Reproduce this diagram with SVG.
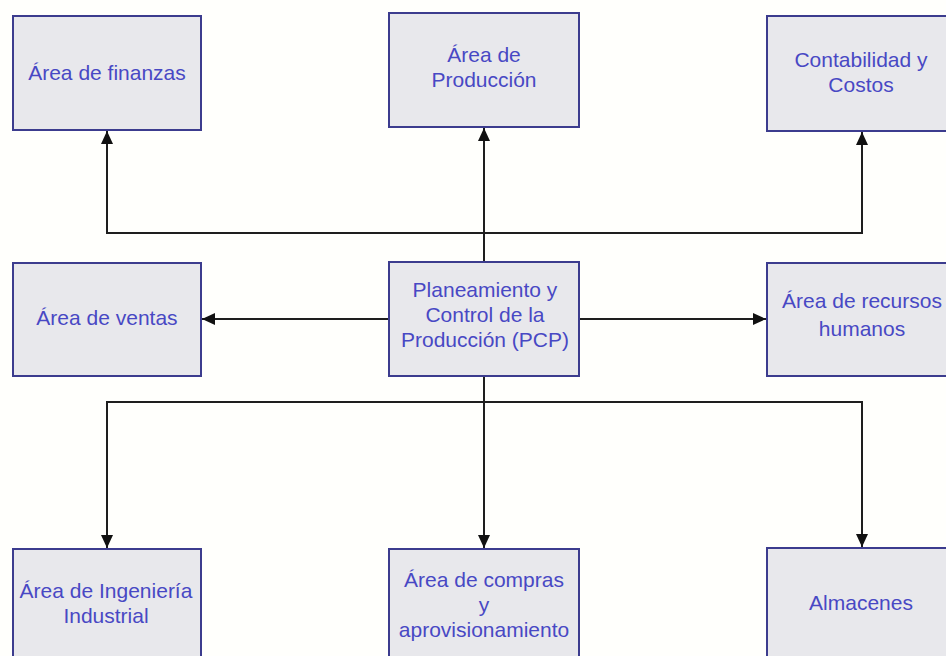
<svg xmlns="http://www.w3.org/2000/svg" width="946" height="656" viewBox="0 0 946 656">
  <style>
    .box { fill: #e8e8ec; stroke: #3c3c8e; stroke-width: 2; }
    .lbl { font-family: "Liberation Sans", Arial, sans-serif; font-size: 21px; fill: #4848c4; text-anchor: middle; }
    .wire { fill: none; stroke: #1e1e1e; stroke-width: 2; }
  </style>
  <defs>
    <marker id="arrow" viewBox="0 0 13 12" refX="13" refY="6" markerWidth="13" markerHeight="12" markerUnits="userSpaceOnUse" orient="auto">
      <path d="M0,0 L13,6 L0,12 Z" fill="#111"/>
    </marker>
  </defs>
  <rect x="0" y="0" width="946" height="656" fill="#fffffc"/>

  <!-- connectors -->
  <g id="connectors">
    <!-- upward tree -->
    <line class="wire" x1="484" y1="262" x2="484" y2="128" marker-end="url(#arrow)"/>
    <polyline class="wire" points="484,233 107,233 107,131" marker-end="url(#arrow)"/>
    <polyline class="wire" points="484,233 862,233 862,132" marker-end="url(#arrow)"/>
    <!-- sideways -->
    <line class="wire" x1="389" y1="319" x2="202" y2="319" marker-end="url(#arrow)"/>
    <line class="wire" x1="579" y1="319" x2="766" y2="319" marker-end="url(#arrow)"/>
    <!-- downward tree -->
    <line class="wire" x1="484" y1="376" x2="484" y2="548" marker-end="url(#arrow)"/>
    <polyline class="wire" points="484,402 107,402 107,548" marker-end="url(#arrow)"/>
    <polyline class="wire" points="484,402 862,402 862,547" marker-end="url(#arrow)"/>
  </g>

  <!-- top row -->
  <g id="finanzas">
    <rect class="box" x="13" y="16" width="188" height="114"/>
    <text class="lbl" x="107" y="80">Área de finanzas</text>
  </g>
  <g id="produccion">
    <rect class="box" x="389" y="13" width="190" height="114"/>
    <text class="lbl" x="484" y="62">Área de</text>
    <text class="lbl" x="484" y="87">Producción</text>
  </g>
  <g id="contabilidad">
    <rect class="box" x="767" y="16" width="190" height="115"/>
    <text class="lbl" x="861" y="67">Contabilidad y</text>
    <text class="lbl" x="861" y="92">Costos</text>
  </g>

  <!-- middle row -->
  <g id="ventas">
    <rect class="box" x="13" y="263" width="188" height="113"/>
    <text class="lbl" x="107" y="325">Área de ventas</text>
  </g>
  <g id="pcp">
    <rect class="box" x="389" y="262" width="190" height="114"/>
    <text class="lbl" x="485" y="297">Planeamiento y</text>
    <text class="lbl" x="485" y="322">Control de la</text>
    <text class="lbl" x="485" y="347">Producción (PCP)</text>
  </g>
  <g id="rrhh">
    <rect class="box" x="767" y="263" width="190" height="113"/>
    <text class="lbl" x="862" y="308">Área de recursos</text>
    <text class="lbl" x="862" y="336">humanos</text>
  </g>

  <!-- bottom row -->
  <g id="ingenieria">
    <rect class="box" x="13" y="549" width="188" height="120"/>
    <text class="lbl" x="106" y="598">Área de Ingeniería</text>
    <text class="lbl" x="106" y="623">Industrial</text>
  </g>
  <g id="compras">
    <rect class="box" x="389" y="549" width="190" height="120"/>
    <text class="lbl" x="484" y="587">Área de compras</text>
    <text class="lbl" x="484" y="612">y</text>
    <text class="lbl" x="484" y="637">aprovisionamiento</text>
  </g>
  <g id="almacenes">
    <rect class="box" x="767" y="548" width="190" height="121"/>
    <text class="lbl" x="861" y="610">Almacenes</text>
  </g>
</svg>
